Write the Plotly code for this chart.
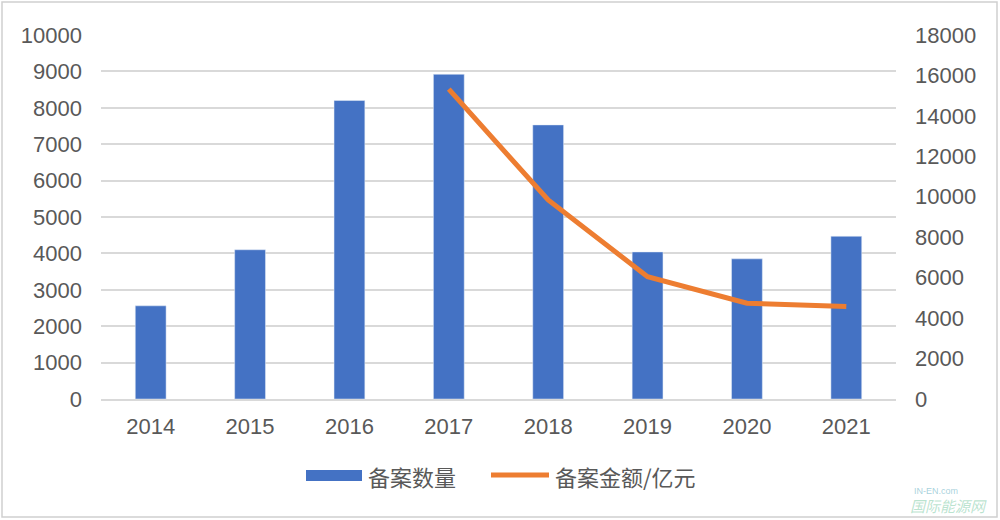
import plotly.graph_objects as go

years = ["2014", "2015", "2016", "2017", "2018", "2019", "2020", "2021"]
count_values = [2560, 4100, 8200, 8920, 7530, 4040, 3850, 4470]
amount_years = ["2017", "2018", "2019", "2020", "2021"]
amount_values = [15320, 9840, 6050, 4740, 4570]

left_ticks = list(range(0, 10001, 1000))
right_ticks = list(range(0, 18001, 2000))
left_labels = [str(v) for v in left_ticks]
right_labels = [str(v) for v in right_ticks]
legend_names = ["备案数量", "备案金额/亿元"]

FONT = "Liberation Sans, Arial, Noto Sans CJK SC, sans-serif"
GRAY = "#595959"
BLUE = "#4472C4"
ORANGE = "#ED7D31"

L, R, T, B = 101, 104, 35, 121
W, H = 1000, 520
PW, PH = W - L - R, H - T - B


def px(x):
    return (x - L) / PW


def py(y):
    return (H - B - y) / PH


fig = go.Figure()
fig.add_trace(go.Bar(
    x=years, y=count_values, name=legend_names[0],
    marker=dict(color=BLUE), width=0.31, yaxis="y",
))
fig.add_trace(go.Scatter(
    x=amount_years, y=amount_values, name=legend_names[1],
    mode="lines", line=dict(color=ORANGE, width=5), yaxis="y2",
))

shapes = [
    dict(type="rect", xref="paper", yref="paper",
         x0=px(2), x1=px(997), y0=py(517), y1=py(2),
         line=dict(color="#d0d0d0", width=1.5), fillcolor="rgba(0,0,0,0)", layer="below"),
    dict(type="rect", xref="paper", yref="paper",
         x0=px(306), x1=px(362), y0=py(481), y1=py(470),
         line=dict(width=0), fillcolor=BLUE),
    dict(type="line", xref="paper", yref="paper",
         x0=px(491), x1=px(549), y0=py(475), y1=py(475),
         line=dict(color=ORANGE, width=5)),
]

annotations = [
    dict(text=legend_names[0], xref="paper", yref="paper", x=px(366), y=py(476),
         xanchor="left", yanchor="middle", showarrow=False,
         font=dict(size=22, color=GRAY, family="Noto Sans CJK SC, sans-serif")),
    dict(text=legend_names[1], xref="paper", yref="paper", x=px(553), y=py(476),
         xanchor="left", yanchor="middle", showarrow=False,
         font=dict(size=22, color=GRAY, family="Noto Sans CJK SC, sans-serif")),
    dict(text="IN-EN.com", xref="paper", yref="paper", x=px(912), y=py(491),
         xanchor="left", yanchor="middle", showarrow=False,
         font=dict(size=9, color="rgba(90,170,190,0.55)")),
    dict(text="<i>国际能源网</i>", xref="paper", yref="paper", x=px(908), y=py(505),
         xanchor="left", yanchor="middle", showarrow=False,
         font=dict(size=15, color="rgba(120,200,160,0.5)",
                   family="Noto Sans CJK SC, sans-serif")),
]

fig.update_layout(
    width=W, height=H,
    margin=dict(l=L, r=R, t=T, b=B, autoexpand=False),
    paper_bgcolor="white", plot_bgcolor="white",
    font=dict(family=FONT, size=22, color=GRAY),
    showlegend=False,
    xaxis=dict(type="category", categoryorder="array", categoryarray=years,
               showgrid=False, showline=True, linecolor="#d9d9d9", linewidth=1.5,
               ticks="", tickfont=dict(size=22, color=GRAY), range=[-0.5, 7.5],
               ticklabelstandoff=7, automargin=False),
    yaxis=dict(range=[0, 10000], tickvals=left_ticks, ticktext=left_labels, showgrid=True,
               gridcolor="#d9d9d9", gridwidth=1.5, zeroline=False,
               tickfont=dict(size=22, color=GRAY), ticklabelstandoff=18, automargin=False),
    yaxis2=dict(range=[0, 18000], tickvals=right_ticks, ticktext=right_labels,
                overlaying="y", side="right",
                showgrid=False, zeroline=False,
                tickfont=dict(size=22, color=GRAY), ticklabelstandoff=18, automargin=False),
    shapes=shapes,
    annotations=annotations,
)

fig.write_html("out.html", config={"displayModeBar": False},
               post_script="document.body.style.margin='0';")
